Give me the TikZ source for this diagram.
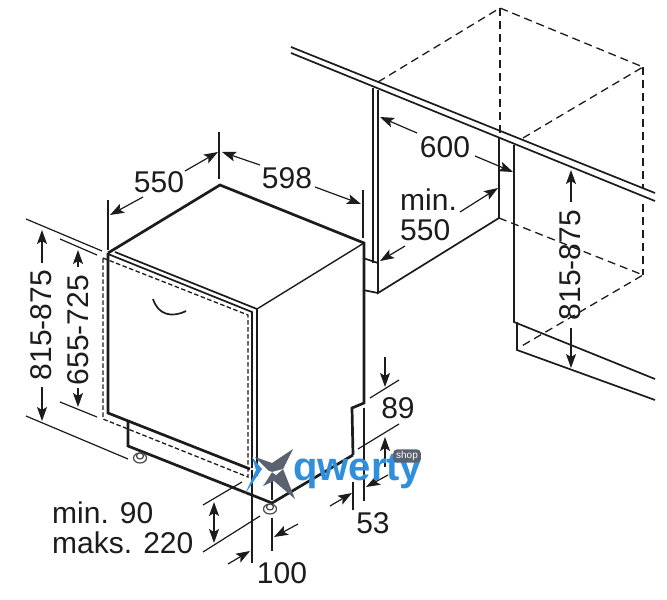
\documentclass[tikz,border=0pt]{standalone}
\usepackage{fontspec}
\setmainfont{Liberation Sans}
\usetikzlibrary{arrows.meta}
\definecolor{ink}{HTML}{1C1C1C}
\definecolor{qblue}{HTML}{2F8FDC}
\definecolor{qgray}{HTML}{5A6270}
\tikzset{
 thin line/.style={draw=ink,line width=1.4pt},
 thick line/.style={draw=ink,line width=2.7pt,line join=miter},
 body line/.style={draw=ink,line width=1.7pt},
 dash line/.style={draw=ink,line width=1.3pt,dash pattern=on 8pt off 5pt},
 door dash/.style={draw=ink,line width=1.3pt,dash pattern=on 4.5pt off 2.5pt},
 dim/.style={draw=ink,line width=1.2pt},
 dimarrow/.style={draw=ink,line width=1.2pt,-{Stealth[length=14pt,width=10pt,inset=3pt]}},
 label/.style={text=ink,font=\fontsize{30}{30}\selectfont,inner sep=0pt},
}
\begin{document}
\begin{tikzpicture}[x=1pt,y=-1pt]
\useasboundingbox[fill=white] (0,0) rectangle (667,600);
% appliance body
\draw[thick line] (108,253) -- (220,185) -- (364,243) -- (364,403) -- (352,408) -- (353,455);
\draw[thin line] (257,309) -- (364,243);
\draw[body line] (115,252) -- (257,309) -- (257,476);
\draw[body line] (108,254) -- (252,312) -- (252,468);
\draw[door dash] (103,258) -- (248,315) -- (248,477) -- (103,419) -- cycle;
\draw[thick line] (108,253) -- (108,413) -- (250,469);
\draw[thick line] (128,421) -- (128,446) -- (272,503) -- (353,455);
% handle
\draw[body line] (153,299) .. controls (158,315) and (172,318) .. (186,311);
% feet
\draw[draw=ink!80,line width=1.2pt,fill=white] (140,458) ellipse (6.5pt and 5pt);
\draw[draw=ink!80,line width=1.2pt,fill=white] (140,456) ellipse (3.5pt and 3pt);
\draw[draw=ink!80,line width=1.2pt,fill=white] (270,509) ellipse (6.5pt and 5pt);
\draw[draw=ink!80,line width=1.2pt,fill=white] (270,507) ellipse (3.5pt and 3pt);
% dimension lines, left
\draw[dim] (26,219) -- (102,251);
\draw[dim] (26,416) -- (128,459);
\draw[dim] (60,239) -- (97,255);
\draw[dim] (60,402) -- (97,417);
\draw[dimarrow] (42,263) -- (42,230);
\draw[dimarrow] (42,387) -- (42,421);
\draw[dimarrow] (78,267) -- (78,250);
\draw[dimarrow] (78,388) -- (78,407);
\node[label,rotate=90] (h1) at (41,325) {815-875};
\node[label,rotate=90] (h2) at (78,330) {655-725};
% top dimensions
\draw[dim] (108,200) -- (108,250);
\draw[dim] (219,132) -- (219,179);
\draw[dim] (363,190) -- (363,238);
\draw[dimarrow] (185,171) -- (218,152);
\draw[dimarrow] (143,197) -- (110,215);
\draw[dimarrow] (260,165) -- (222,152);
\draw[dimarrow] (315,187) -- (361,204);
\node[label] (d550) at (159,182) {550};
\node[label] (d598) at (287,178) {598};
% niche
\draw[body line] (291,47) -- (655,193);
\draw[body line] (291,53) -- (655,201);
\draw[body line] (373,88) -- (373,263);
\draw[body line] (378,90) -- (378,293) -- (499,218) -- (499,138);
\draw[body line] (363,258) -- (378,263);
\draw[body line] (363,290) -- (378,293);
\draw[body line] (514,145) -- (514,322) -- (655,379);
\draw[body line] (517,322) -- (517,350) -- (655,400);
\draw[dash line] (378,82) -- (500,8) -- (643,67) -- (523,138);
\draw[dash line] (500,8) -- (500,133);
\draw[dash line] (643,67) -- (643,188);
\draw[dash line] (643,204) -- (643,275);
\draw[dash line] (499,218) -- (643,275) -- (520,347);
% niche dimensions
\draw[dimarrow] (417,133) -- (380,117);
\draw[dimarrow] (475,156) -- (513,172);
\draw[dimarrow] (460,212) -- (498,188);
\draw[dimarrow] (405,246) -- (380,261);
\node[label] (d600) at (445,147) {600};
\node[label,anchor=west] (dmin) at (400,200) {min.};
\node[label,anchor=west] (d550b) at (400,230) {550};
\draw[dimarrow] (571,202) -- (571,170);
\draw[dimarrow] (571,328) -- (571,368);
\node[label,rotate=90] (h3) at (570,265) {815-875};
% lower right dimensions
\draw[dimarrow] (385,357) -- (385,387);
\draw[dimarrow] (385,467) -- (385,437);
\draw[dim] (370,398) -- (399,380);
\draw[dim] (358,449) -- (399,424);
\draw[dim] (364,408) -- (364,501);
\draw[dim] (353,482) -- (353,510);
\draw[dimarrow] (330,506) -- (352,493);
\draw[dimarrow] (388,475) -- (366,487);
\node[label] (d89) at (398,408) {89};
\node[label] (d53) at (373,523) {53};
% plinth and foot dimensions
\draw[dim] (203,505) -- (242,482);
\draw[dim] (203,552) -- (260,516);
\draw[draw=ink,line width=1.2pt,{Stealth[length=14pt,width=10pt,inset=3pt]}-{Stealth[length=14pt,width=10pt,inset=3pt]}] (214,502) -- (214,543);
\draw[dim] (252,470) -- (252,563);
\draw[dim] (272,518) -- (272,551);
\draw[dim] (272,475) -- (272,500);
\draw[dimarrow] (228,564) -- (250,551);
\draw[dimarrow] (298,524) -- (274,537);
\node[label,anchor=west] (dm90) at (52,513) {min. 90};
\node[label,anchor=west] (dm220) at (52,543) {maks. 220};
\node[label] (d100) at (282,573) {100};
% watermark
\fill[qgray] (293,449) -- (283,469) -- (295,499) -- (274,481) -- (263,486) -- (268,470) -- (255,457) -- (272,463) -- cycle;
\fill[white] (262,468) -- (272,472) -- (263,486) -- (266,473) -- cycle;
\fill[white] (272,472) -- (283,469) -- (276,475) -- cycle;
\fill[qblue] (252,457) -- (262,469) -- (245,494) -- (256,470) -- cycle;
\node[text=qblue,font=\bfseries\fontsize{40}{40}\selectfont,inner sep=0pt,anchor=base west] (wm) at (293,480) {qwerty};
\node[fill=qgray,rounded corners=4pt,text=white,font=\fontsize{10}{10}\selectfont,inner xsep=3pt,inner ysep=2pt] (shop) at (407,456) {shop};
\end{tikzpicture}
\end{document}
